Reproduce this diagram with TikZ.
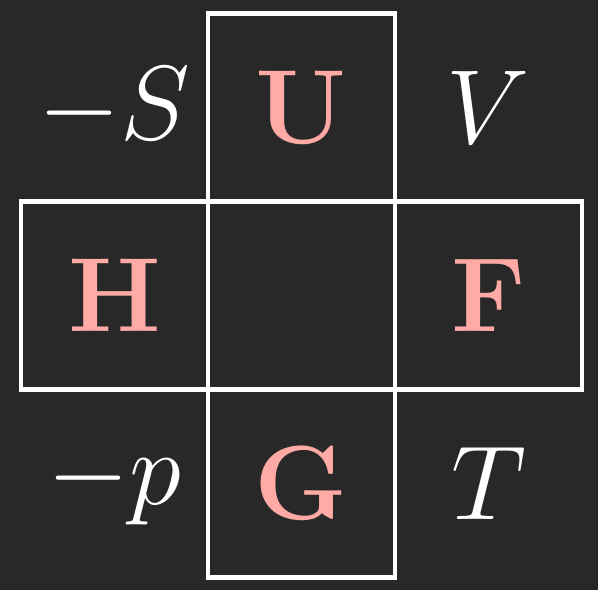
\documentclass[tikz,border=0pt]{standalone}
\usepackage{fix-cm}
\usetikzlibrary{positioning}
\definecolor{bgdark}{HTML}{282828}
\definecolor{potpink}{HTML}{FFAAA5}
\tikzset{
    potential/.style={draw=white, line width=1.25pt, minimum width=1.87cm, minimum height=1.88cm, inner sep=0pt, outer sep=0pt, text=potpink, font=\fontsize{30}{36}\selectfont\bfseries},
    statevar/.style={text=white, font=\fontsize{30}{36}\selectfont}
}
\begin{document}
\begin{tikzpicture}
    \fill[bgdark] (0,0) rectangle (5.98,-5.90);
    \node[potential] (U) at (3.015,-1.075) {U};
    \node[potential, anchor=north east] (H) at (U.south west) {H};
    \node[potential, anchor=north west] (F) at (U.south east) {F};
    \node[potential, anchor=north west] (G) at (H.south east) {G};

    \node[statevar] (S) at (H |- U) {$-S$};
    \node[statevar] (V) at (F |- U) {$V$};
    \node[statevar] (p) at (H |- G) {$-p$};
    \node[statevar] (T) at (F |- G) {$T$};
\end{tikzpicture}
\end{document}
